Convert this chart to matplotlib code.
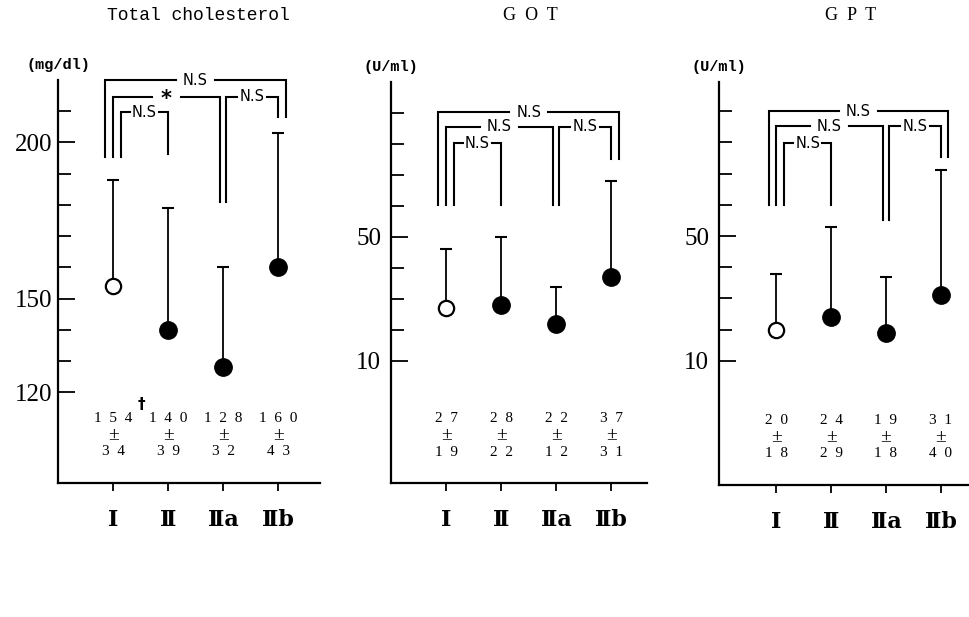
import matplotlib
matplotlib.use("Agg")
import matplotlib.pyplot as plt
import matplotlib.transforms as mtransforms

# ---------------- data ----------------
groups = ["Ⅰ", "Ⅱ", "Ⅱa", "Ⅱb"]
chol_mean = [154, 140, 128, 160]
chol_sd = [34, 39, 32, 43]
got_mean = [27, 28, 22, 37]
got_sd = [19, 22, 12, 31]
gpt_mean = [20, 24, 19, 31]
gpt_sd = [18, 29, 18, 40]
panel_titles = ["Total cholesterol", "G  O  T", "G  P  T"]
units = ["(mg/dl)", "(U/ml)", "(U/ml)"]
chol_major = [120, 150, 200]
chol_minor = [130, 140, 160, 170, 180, 190, 210]
enz_major = [10, 50]
enz_minor = [20, 30, 40, 60, 70, 80, 90]
# comparisons: (group a, group b, label)
chol_tests = [(0, 3, "N.S"), (0, 2, "*"), (0, 1, "N.S"), (2, 3, "N.S")]
got_tests = [(0, 3, "N.S"), (0, 2, "N.S"), (0, 1, "N.S"), (2, 3, "N.S")]
gpt_tests = [(0, 3, "N.S"), (0, 2, "N.S"), (0, 1, "N.S"), (2, 3, "N.S")]
chol_mark = "†"

# ---------------- layout ----------------
W, H = 969, 617
fig = plt.figure(figsize=(W / 100, H / 100), dpi=100)

panels = [
    dict(mean=chol_mean, sd=chol_sd, tests=chol_tests, major=chol_major, minor=chol_minor,
         rect=(58, 80, 320, 483), xlim=(0, 4.76), ylim=(91, 220),
         levels=[219.9, 214.7, 209.6, 214.7], ends=[195.5, 196.2, 181, 208], ylpad=4),
    dict(mean=got_mean, sd=got_sd, tests=got_tests, major=enz_major, minor=enz_minor,
         rect=(391, 82, 647, 483), xlim=(0, 4.65), ylim=(-29.4, 100),
         levels=[90.3, 85.5, 80.3, 85.5], ends=[60.3, 60.3, 60.3, 75.2], ylpad=7),
    dict(mean=gpt_mean, sd=gpt_sd, tests=gpt_tests, major=enz_major, minor=enz_minor,
         rect=(719, 82, 968, 485), xlim=(-0.05, 4.5), ylim=(-29.7, 99.3),
         levels=[90, 85.2, 79.7, 85.2], ends=[60, 60, 55.2, 75.2], ylpad=7),
]
# bracket horizontal offsets (left, right) and half-gap for label
br_off = [(-0.14, 0.14), (0.0, -0.06), (0.14, 0.0), (0.06, 0.0)]
br_gap = [0.36, 0.36, 0.27, 0.27]

serif = ["Liberation Serif", "DejaVu Serif"]
roman = ["DejaVu Serif", "DejaVu Sans"]

axes = []
for p in panels:
    l, t, r, b = p["rect"]
    ax = fig.add_axes([l / W, (H - b) / H, (r - l) / W, (b - t) / H])
    axes.append(ax)
    xs = list(range(1, len(groups) + 1))
    ax.set_xlim(*p["xlim"])
    ax.set_ylim(*p["ylim"])
    for sp in ["top", "right"]:
        ax.spines[sp].set_visible(False)
    for sp in ["left", "bottom"]:
        ax.spines[sp].set_linewidth(1.6)

    # error bars (upper only)
    ax.errorbar(xs, p["mean"], yerr=[[0] * 4, p["sd"]], fmt="none", ecolor="black",
                elinewidth=1.3, capsize=4.5, capthick=1.5, zorder=2)
    ax.plot(xs[:1], p["mean"][:1], "o", ms=11, mfc="white", mec="black", mew=1.6, zorder=3)
    ax.plot(xs[1:], p["mean"][1:], "o", ms=12.5, mfc="black", mec="black", zorder=3)

    # ticks
    ax.set_yticks(p["major"])
    ax.set_yticks(p["minor"], minor=True)
    ax.set_yticklabels([str(v) for v in p["major"]], fontsize=18, family=serif)
    ax.tick_params(axis="y", which="major", direction="in", length=12, width=1.3, pad=p["ylpad"])
    ax.tick_params(axis="y", which="minor", direction="in", length=9, width=1.3)
    ax.set_xticks(xs)
    ax.set_xticklabels(groups, fontsize=16, family=roman, fontweight="bold")
    ax.tick_params(axis="x", direction="out", length=6, width=1.3, pad=13)

    # value labels
    trans = mtransforms.blended_transform_factory(ax.transData, ax.transAxes)
    for x, m, s in zip(xs, p["mean"], p["sd"]):
        ax.text(x, 0.161, "  ".join(str(m)), transform=trans, ha="center", va="center",
                fontsize=11, family=serif)
        ax.text(x, 0.119, "±", transform=trans, ha="center", va="center",
                fontsize=14, family=serif)
        ax.text(x, 0.077, "  ".join(str(s)), transform=trans, ha="center", va="center",
                fontsize=11, family=serif)

    # significance brackets
    for k, (a, bgrp, lab) in enumerate(p["tests"]):
        xl = xs[a] + br_off[k][0]
        xr = xs[bgrp] + br_off[k][1]
        y = p["levels"][k]
        xc = (xl + xr) / 2
        g = br_gap[k] if lab != "*" else 0.27
        ax.plot([xl, xl, xc - g], [p["ends"][a], y, y], color="black", lw=1.5,
                clip_on=False, solid_joinstyle="miter", zorder=4)
        ax.plot([xc + g, xr, xr], [y, y, p["ends"][bgrp]], color="black", lw=1.5,
                clip_on=False, solid_joinstyle="miter", zorder=4)
        if lab == "*":
            ax.text(xc, y, lab, ha="center", va="center_baseline", fontsize=15,
                    fontweight="bold", family="DejaVu Sans", zorder=5)
        else:
            ax.text(xc, y, lab, ha="center", va="center", fontsize=10.5,
                    family="DejaVu Sans", zorder=5)

# units
for ax, u in zip(axes, units):
    ax.text(0, 1.037, u, transform=ax.transAxes, ha="center", va="center",
            fontsize=11, family="Liberation Mono", fontweight="bold")

# dagger on first panel
trans0 = mtransforms.blended_transform_factory(axes[0].transData, axes[0].transAxes)
axes[0].text(1.51, 0.194, chol_mark, transform=trans0, ha="center", va="center",
             fontsize=11, fontweight="bold", family="DejaVu Sans")

# titles
fig.text(198 / W, 1 - 15 / H, panel_titles[0], ha="center", va="center",
         fontsize=13, family="Liberation Mono")
fig.text(530 / W, 1 - 15 / H, panel_titles[1], ha="center", va="center",
         fontsize=13, family=serif)
fig.text(851 / W, 1 - 15 / H, panel_titles[2], ha="center", va="center",
         fontsize=13, family=serif)

fig.savefig("out.png", dpi=100, facecolor="white")
